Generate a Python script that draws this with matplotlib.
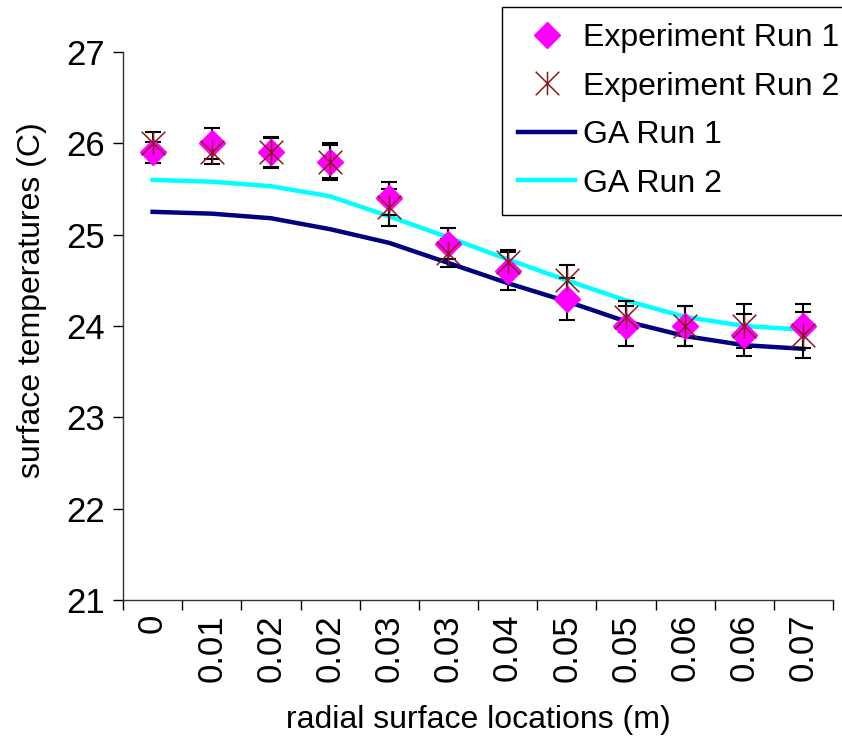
import numpy as np
import matplotlib
matplotlib.use("Agg")
import matplotlib.pyplot as plt
from matplotlib.path import Path

plt.rcParams['font.family'] = ['Liberation Sans', 'DejaVu Sans']

# --- data ---
locations = ["0", "0.01", "0.02", "0.02", "0.03", "0.03",
             "0.04", "0.05", "0.05", "0.06", "0.06", "0.07"]
exp_run1 = [25.9, 26.0, 25.9, 25.8, 25.4, 24.9, 24.6, 24.3, 24.0, 24.0, 23.9, 24.0]
exp_run2 = [26.0, 25.9, 25.9, 25.8, 25.3, 24.8, 24.7, 24.5, 24.1, 24.0, 24.0, 23.9]
err_run1 = [0.12, 0.17, 0.17, 0.20, 0.18, 0.17, 0.21, 0.23, 0.22, 0.22, 0.23, 0.24]
err_run2 = [0.12, 0.13, 0.16, 0.18, 0.20, 0.15, 0.13, 0.17, 0.17, 0.22, 0.24, 0.25]
ga_run1 = [25.25, 25.23, 25.18, 25.06, 24.91, 24.69, 24.47, 24.27, 24.05, 23.89, 23.79, 23.75]
ga_run2 = [25.60, 25.58, 25.53, 25.42, 25.20, 24.97, 24.73, 24.50, 24.28, 24.10, 24.00, 23.96]

FS = 23
x = np.arange(len(locations))

# Excel style star marker: an x with a vertical stroke
star = Path([(-1, -1), (1, 1), (-1, 1), (1, -1), (0, -1), (0, 1)],
            [Path.MOVETO, Path.LINETO, Path.MOVETO, Path.LINETO, Path.MOVETO, Path.LINETO])

fig = plt.figure(figsize=(8.42, 7.44), dpi=100)
ax = fig.add_axes([123 / 842, 1 - 600 / 744, 710 / 842, 548 / 744])

ax.plot(x, ga_run1, color="#000080", lw=3.2, label="GA Run 1", zorder=2)
ax.plot(x, ga_run2, color="#00FFFF", lw=3.2, label="GA Run 2", zorder=2)

ax.errorbar(x, exp_run1, yerr=err_run1, fmt="none", ecolor="black",
            elinewidth=1.5, capsize=6, capthick=1.5, zorder=3)
ax.errorbar(x, exp_run2, yerr=err_run2, fmt="none", ecolor="black",
            elinewidth=1.5, capsize=6, capthick=1.5, zorder=3)

ax.plot(x, exp_run1, linestyle="none", marker="D", markersize=13,
        color="#FF00FF", markeredgecolor="#FF00FF", label="Experiment Run 1", zorder=4)
ax.plot(x, exp_run2, linestyle="none", marker=star, markersize=17,
        color="#8B1A1A", markeredgewidth=1.1, label="Experiment Run 2", zorder=5)

ax.set_xlim(-0.5, len(locations) - 0.5)
ax.set_ylim(21, 27)
ax.set_yticks(range(21, 28))

ax.set_xticks(np.arange(-0.5, len(locations)), labels=[""] * (len(locations) + 1))
ax.set_xticks(x, labels=locations, minor=True)
ax.tick_params(axis="x", which="major", direction="out", length=7, width=1)
ax.tick_params(axis="x", which="minor", length=0, pad=10, labelsize=25, labelrotation=90)
ax.tick_params(axis="y", direction="out", length=7, width=1, pad=6, labelsize=25)
for lbl in ax.get_xticklabels(minor=True):
    lbl.set_verticalalignment("top")

for side in ["top", "right"]:
    ax.spines[side].set_visible(False)
for side in ["left", "bottom"]:
    ax.spines[side].set_color("#333333")
    ax.spines[side].set_linewidth(1)

ax.set_xlabel("radial surface locations (m)", fontsize=FS, labelpad=17)
ax.set_ylabel("surface temperatures (C)", fontsize=FS)
ax.yaxis.set_label_coords(-76 / 710, 0.547)

handles, labels = ax.get_legend_handles_labels()
order = [2, 3, 0, 1]
leg = fig.legend([handles[i] for i in order], [labels[i] for i in order],
                 loc="upper left", bbox_to_anchor=(502 / 842, 1 - 7 / 744),
                 fontsize=FS, frameon=True, fancybox=False, framealpha=1,
                 edgecolor="black", borderpad=0.5, labelspacing=0.58,
                 handlelength=1.8, handletextpad=0.25, borderaxespad=0)
leg.get_frame().set_linewidth(1)

fig.savefig("out.png", dpi=100)
